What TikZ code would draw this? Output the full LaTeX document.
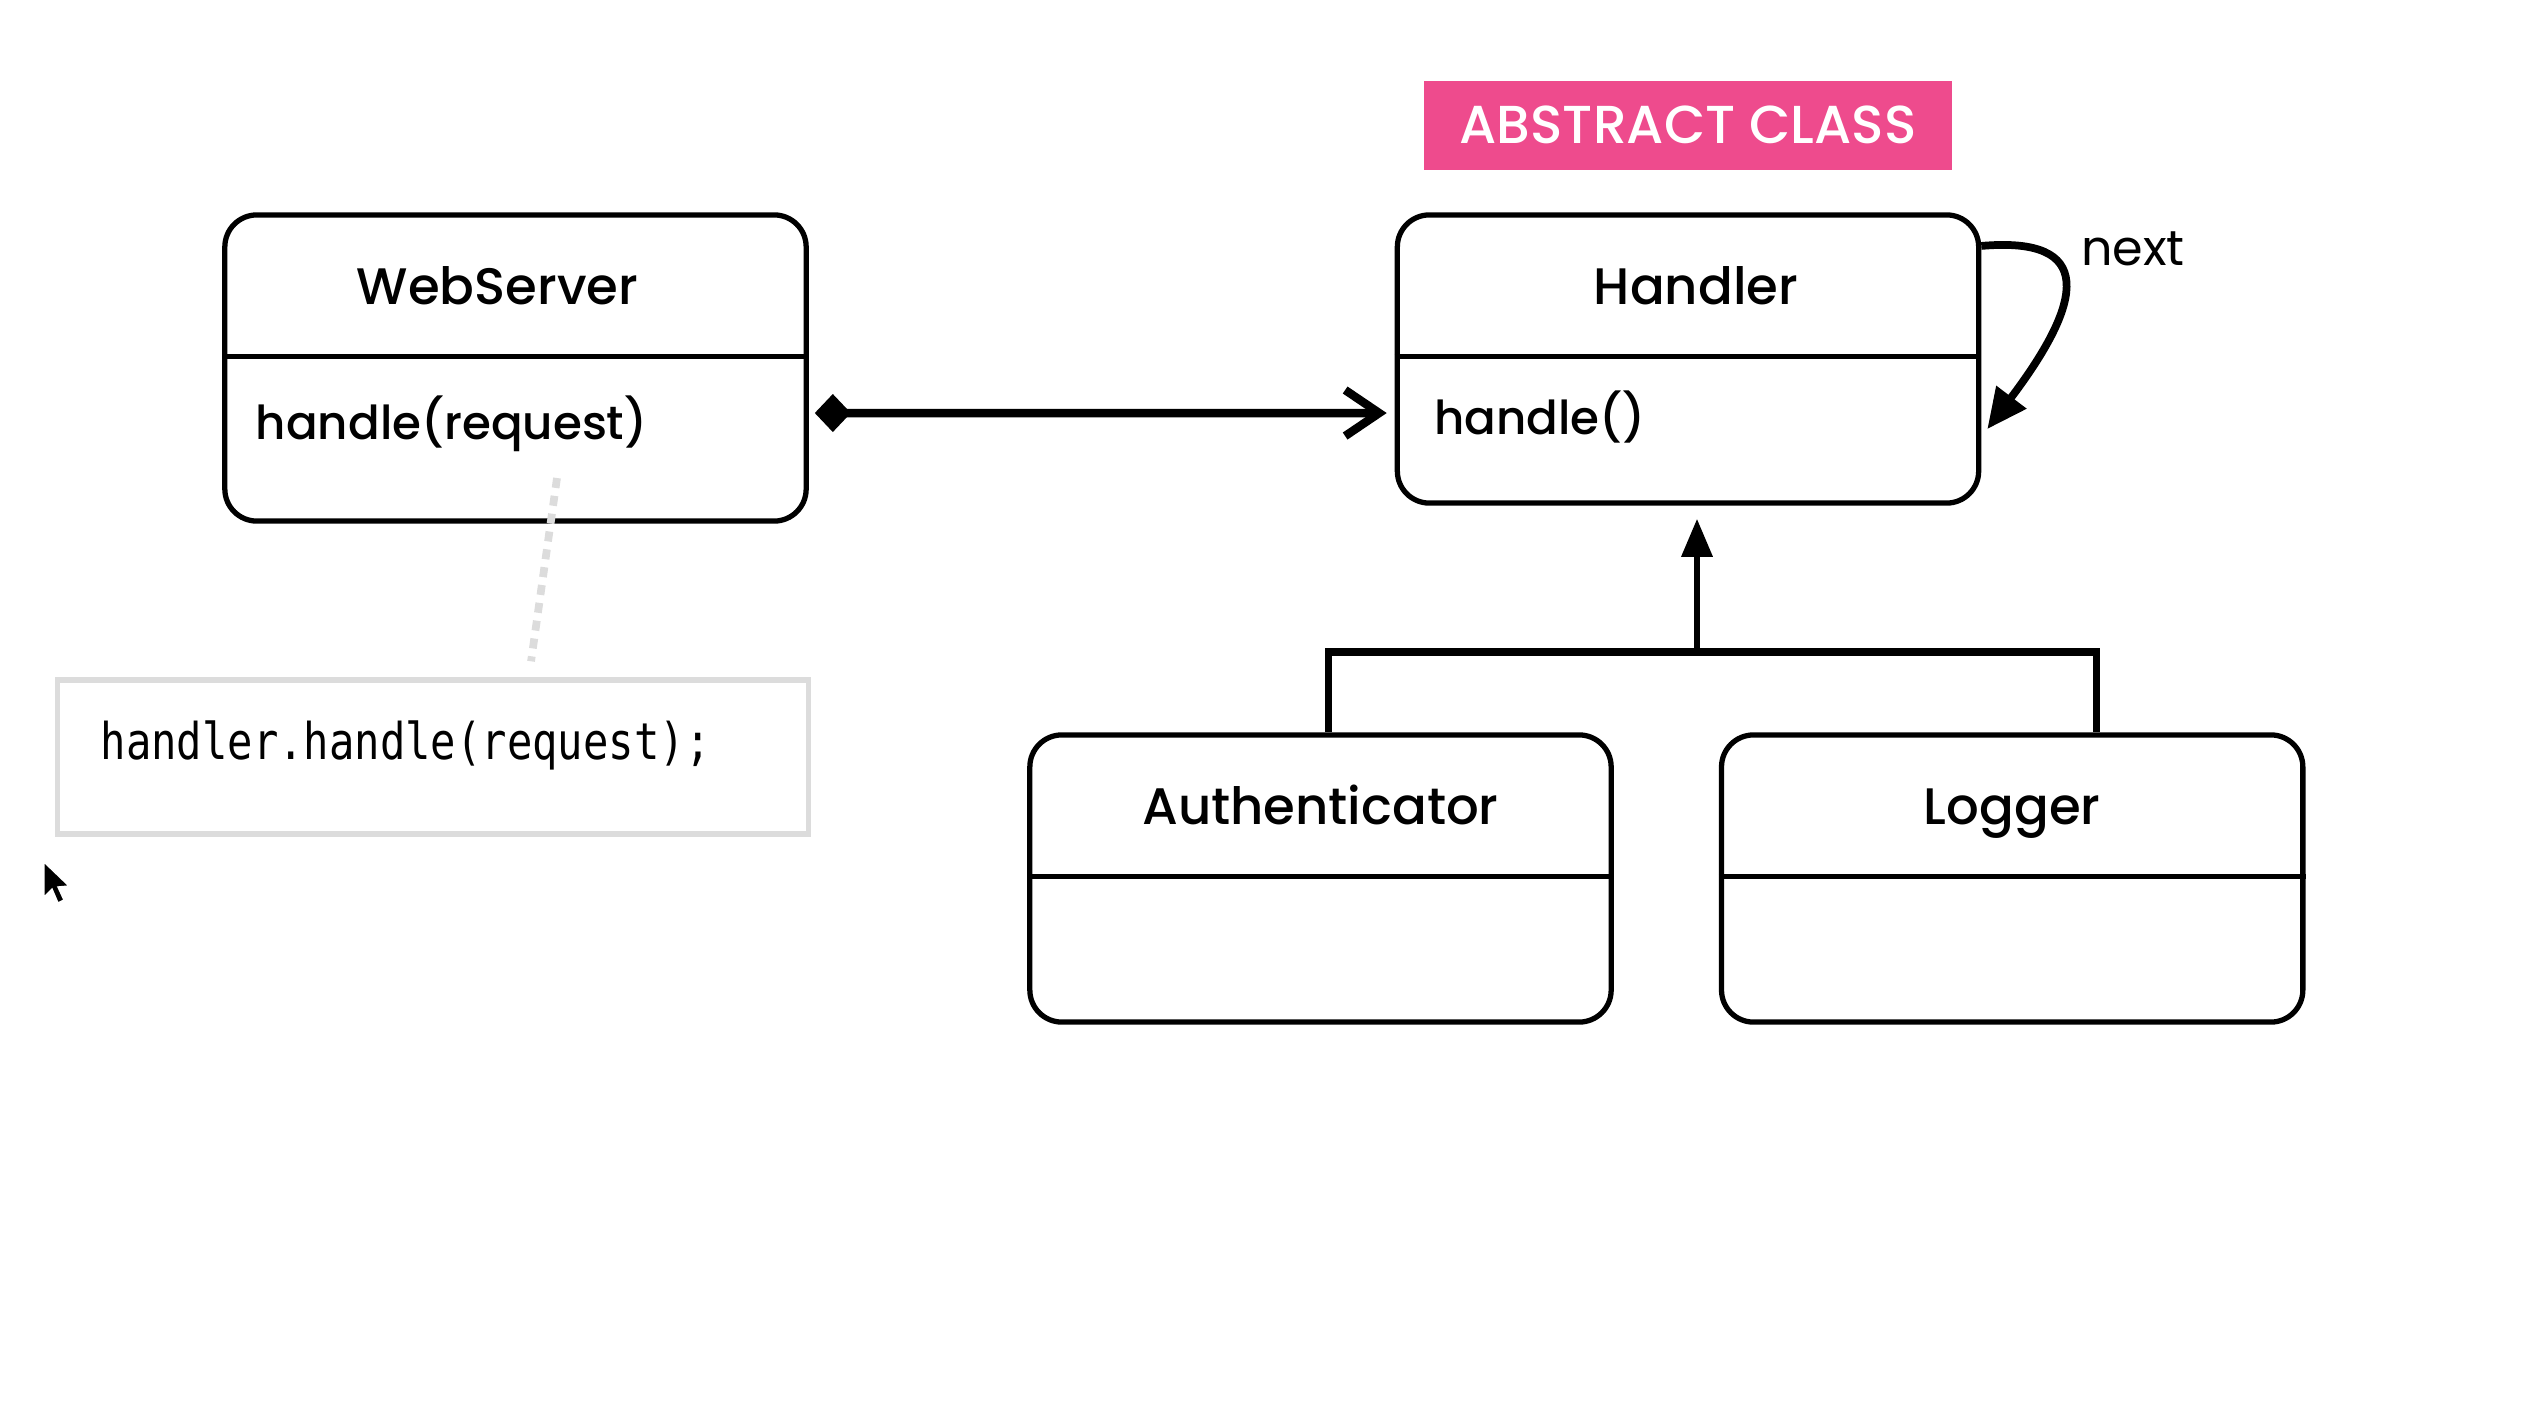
\documentclass[tikz,border=0pt]{standalone}
\usepackage{fontspec}
\setmainfont{Poppins}
\newfontfamily\titlefont{Poppins Medium}
\setmonofont{DejaVu Sans Mono}
\usepackage{tikz}
\usetikzlibrary{positioning, arrows.meta, calc}
\definecolor{umlBlack}{HTML}{000000}
\definecolor{tagPink}{HTML}{EE4B8D}
\definecolor{noteGrey}{HTML}{DCDCDC}

\tikzset{
  umlclass/.style={draw=umlBlack, line width=1.5pt, rounded corners=0.32cm,
                   minimum width=5.81cm, inner sep=0pt},
  classname/.style={font=\titlefont\fontsize{14.6}{18}\selectfont, anchor=base},
  method/.style={font=\titlefont\fontsize{13.3}{17}\selectfont, anchor=base west, inner sep=0pt},
}

\begin{document}
\begin{tikzpicture}[x=0.01cm, y=-0.01cm]
  \useasboundingbox (0,0) rectangle (2539,1415);

  % classes
  \node[umlclass, minimum height=3.06cm] (ws) at (515.5,368) {};
  \node[umlclass, minimum height=2.88cm] (handler) at (1688,359) {};
  \node[umlclass, minimum height=2.87cm] (auth) at (1320.5,878.5) {};
  \node[umlclass, minimum height=2.87cm, right=1.05cm of auth] (logger) {};

  \node[fill=tagPink, text=white, minimum width=5.28cm, minimum height=0.89cm,
        above=0.42cm of handler, font=\titlefont\fontsize{15.2}{18}\selectfont] (tag) {ABSTRACT CLASS};

  \foreach \cls/\name/\dx in {ws/WebServer/-0.18, handler/Handler/0.08, auth/Authenticator/0, logger/Logger/0} {
    \node[classname] (\cls-title) at ([xshift=\dx cm, yshift=-0.92cm]\cls.north) {\name};
    \draw[line width=1.5pt] ([yshift=-1.44cm]\cls.north west) -- ([yshift=-1.44cm]\cls.north east);
  }

  \node[method] (ws-op) at ([xshift=0.33cm, yshift=-2.27cm]ws.north west) {handle(request)};
  \node[method] (handler-op) at ([xshift=0.39cm, yshift=-2.22cm]handler.north west) {handle()};

  % composition
  \draw[line width=2.4pt, {Diamond[length=0.36cm,width=0.38cm]}-{Straight Barb[length=0.34cm,width=0.46cm]}]
    ([xshift=0.06cm, yshift=-0.45cm]ws.east) -- ([xshift=-0.08cm, yshift=-0.54cm]handler.west);

  % self reference
  \draw[line width=2.2pt, -{Triangle[length=0.4cm,width=0.36cm]}]
    ([yshift=1.13cm]handler.east) .. controls (2095,236) and (2085,300) .. ([xshift=0.06cm, yshift=-0.70cm]handler.east);
  \node[font=\fontsize{14}{17}\selectfont] (nextlbl) at (2133,249) {next};

  % inheritance
  \coordinate (fork) at (1697,652);
  \draw[line width=2.1pt] ([xshift=0.08cm]auth.north) |- (fork) -| ([xshift=0.84cm]logger.north);
  \draw[line width=1.8pt, -{Triangle[length=0.38cm,width=0.3cm]}] (fork) -- ([yshift=-0.13cm]fork |- handler.south);

  % note
  \node[draw=noteGrey, line width=1.5pt, minimum width=7.5cm, minimum height=1.54cm] (code) at (433,757) {};
  \node[anchor=west, inner sep=0pt, font=\ttfamily\fontsize{12}{14}\selectfont] (codetxt) at (100,745) {\scalebox{1}[1.2]{handler.handle(request);}};
  \coordinate (notefoot) at (557,478);
  \draw[noteGrey, line width=2.2pt, dash pattern=on 0.1cm off 0.08cm] (notefoot) -- ([xshift=0.98cm, yshift=0.16cm]code.north);

  % pointer
  \filldraw[black, draw=white, line width=0.4pt] (44,862) -- (44,897) -- (52,889) -- (58,903) -- (64,900) -- (58,887) -- (69,886) -- cycle;
\end{tikzpicture}
\end{document}
